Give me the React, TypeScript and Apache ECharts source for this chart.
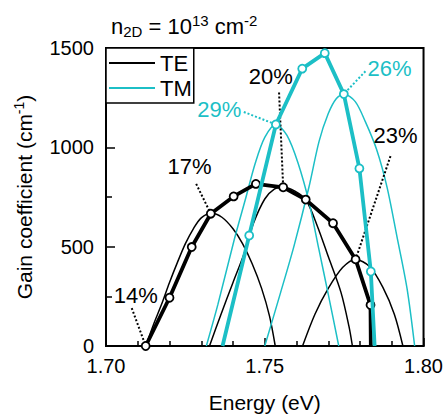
import { useEffect, useRef } from 'react';
import * as echarts from 'echarts';

// ---- data (x: Energy eV, y: gain cm^-1) ----
// thin gain spectra, TE polarisation
const te17 = [[1.7125, 0], [1.7150, 110], [1.7175, 210], [1.7200, 320], [1.7225, 421], [1.7250, 515], [1.7275, 590], [1.7300, 645], [1.7332, 668], [1.7365, 648], [1.7400, 590], [1.7430, 515], [1.7460, 415], [1.7490, 290], [1.7515, 150], [1.7533, 0]];
const te20 = [[1.7326, 0], [1.7360, 150], [1.7400, 320], [1.7436, 470], [1.7465, 620], [1.7500, 740], [1.7530, 790], [1.7558, 799], [1.7595, 780], [1.7630, 735], [1.7666, 602], [1.7700, 450], [1.7740, 270], [1.7765, 100], [1.7776, 0]];
const te23 = [[1.7619, 0], [1.7658, 160], [1.7700, 290], [1.7745, 395], [1.7786, 436], [1.7830, 400], [1.7872, 295], [1.7908, 160], [1.7935, 0]];
// thin gain spectra, TM polarisation
const tm29 = [[1.7316, 0], [1.7352, 207], [1.7404, 536], [1.7441, 750], [1.7470, 920], [1.7500, 1050], [1.7535, 1115], [1.7570, 1060], [1.7605, 920], [1.7640, 720], [1.7670, 490], [1.7700, 260], [1.7733, 0]];
const tm26 = [[1.7500, 0], [1.7550, 270], [1.7592, 503], [1.7639, 799], [1.7671, 1030], [1.7700, 1170], [1.7725, 1245], [1.7749, 1268], [1.7785, 1230], [1.7817, 1128], [1.7852, 990], [1.7885, 800], [1.7916, 553], [1.7948, 290], [1.7972, 0]];

// peak gain traces (marked points) and their unmarked ends
const tePeaks = [[1.7125, 0], [1.7200, 243], [1.7270, 498], [1.7330, 666], [1.7402, 753], [1.7472, 816], [1.7558, 799], [1.7629, 737], [1.7715, 618], [1.7786, 436], [1.7833, 206]];
const teTraceEnd = [[1.7834, 0]];
const tmTraceStart = [[1.7367, 0]];
const tmPeaks = [[1.7451, 556], [1.7535, 1115], [1.7618, 1396], [1.7689, 1474], [1.7749, 1268], [1.7798, 894], [1.7834, 375]];
const tmTraceEnd = [[1.7846, 0]];

// annotations (data coordinates): label centre, leader start, leader end
const annotTexts = ['14%', '17%', '20%', '23%', '29%', '26%'];
const annotGroups = ['TE', 'TE', 'TE', 'TE', 'TM', 'TM'];
const annotLabelAt = [[1.7094, 252], [1.7263, 903], [1.7519, 1357], [1.7912, 1061], [1.7357, 1189], [1.7893, 1396]];
const annotFrom = [[1.7081, 191], [1.7284, 816], [1.7545, 1276], [1.7896, 956], [1.7434, 1178], [1.7817, 1383]];
const annotTo = [[1.7125, 0], [1.7330, 666], [1.7558, 799], [1.7786, 436], [1.7535, 1115], [1.7749, 1268]];

const xTicks = { min: 1.7, max: 1.8, interval: 0.05 };
const yTicks = { min: 0, max: 1500, interval: 500 };

const BLACK = '#000000';
const CYAN = '#1CBFC6';
const FONT = 'Liberation Sans, Arial, sans-serif';

export default function App() {
  const ref = useRef<HTMLDivElement>(null);

  useEffect(() => {
    document.body.style.margin = '0';
    if (!ref.current) return;
    const chart = echarts.init(ref.current, undefined, { renderer: 'svg' });

    const thin = (name: string, data: number[][], color: string) => ({
      type: 'line',
      name,
      data,
      smooth: 0.3,
      symbol: 'none',
      showSymbol: false,
      lineStyle: { color, width: 1.5 },
      itemStyle: { color },
      z: 2,
      silent: true,
    });

    const trace = (name: string, pre: number[][], peaks: number[][], post: number[][], color: string, z: number) => ({
      type: 'line',
      name,
      data: [
        ...pre.map((p) => ({ value: p, symbol: 'none' })),
        ...peaks.map((p) => ({ value: p })),
        ...post.map((p) => ({ value: p, symbol: 'none' })),
      ],
      symbol: 'circle',
      symbolSize: 8,
      showSymbol: true,
      lineStyle: { color, width: 3.8 },
      itemStyle: { color: '#fff', borderColor: color, borderWidth: 1.8 },
      z,
      silent: true,
    });

    const leaders = annotTexts.map((t, i) => ({
      type: 'line',
      name: 'leader ' + t,
      data: [annotFrom[i], annotTo[i]],
      symbol: 'none',
      lineStyle: { color: annotGroups[i] === 'TE' ? BLACK : CYAN, width: 2, type: 'dotted' },
      z: 3,
      silent: true,
    }));

    const labels = annotTexts.map((t, i) => ({
      type: 'scatter',
      name: 'label ' + t,
      data: [annotLabelAt[i]],
      symbolSize: 2,
      itemStyle: { color: 'rgba(0,0,0,0)' },
      label: {
        show: true,
        position: 'inside',
        formatter: t,
        fontSize: 22,
        fontFamily: FONT,
        fontWeight: 'normal',
        color: annotGroups[i] === 'TE' ? BLACK : CYAN,
        textBorderWidth: 0,
        textBorderColor: 'transparent',
        opacity: 1,
      },
      z: 6,
      silent: true,
    }));

    const axisCommon = {
      type: 'value',
      axisLine: { show: true, onZero: false, lineStyle: { color: BLACK, width: 2 } },
      splitLine: { show: false },
      nameLocation: 'middle',
    };

    const base = { fontFamily: FONT, color: BLACK, fontWeight: 'normal' };

    chart.setOption({
      animation: false,
      backgroundColor: '#fff',
      title: {
        text: '{a|n}{b|2D}{a| = 10}{c|13}{a| cm}{c|-2}',
        left: 106,
        top: 8,
        textStyle: {
          ...base,
          fontSize: 22,
          rich: {
            a: { ...base, fontSize: 22, lineHeight: 26, verticalAlign: 'middle' },
            b: { ...base, fontSize: 15, lineHeight: 12, verticalAlign: 'bottom' },
            c: { ...base, fontSize: 15, lineHeight: 18, verticalAlign: 'top' },
          },
        },
      },
      legend: {
        left: 106,
        top: 48,
        orient: 'vertical',
        icon: 'rect',
        itemWidth: 46,
        itemHeight: 2,
        itemGap: 1,
        padding: [3, 2, 3, 3],
        borderColor: BLACK,
        borderWidth: 1.5,
        backgroundColor: '#fff',
        textStyle: { ...base, fontSize: 22, lineHeight: 24 },
        data: [
          { name: 'TE', itemStyle: { color: BLACK } },
          { name: 'TM', itemStyle: { color: CYAN } },
        ],
      },
      grid: { left: 106, right: 21, top: 48, bottom: 66, show: true, borderColor: BLACK, borderWidth: 2 },
      xAxis: {
        ...axisCommon,
        min: xTicks.min,
        max: xTicks.max,
        interval: xTicks.interval,
        axisTick: { show: true, inside: true, length: 8, lineStyle: { color: BLACK, width: 1.5 } },
        minorTick: { show: true, splitNumber: 5, length: 5, lineStyle: { color: BLACK, width: 1.5 } },
        axisLabel: {
          ...base,
          formatter: (v: number) => v.toFixed(2),
          fontSize: 20,
          margin: 10,
        },
        name: 'Energy (eV)',
        nameGap: 46,
        nameTextStyle: { ...base, fontSize: 21 },
      },
      yAxis: {
        ...axisCommon,
        min: yTicks.min,
        max: yTicks.max,
        interval: yTicks.interval,
        axisTick: { show: true, inside: true, length: 9, lineStyle: { color: BLACK, width: 1.5 } },
        minorTick: { show: true, splitNumber: 2, length: 6, lineStyle: { color: BLACK, width: 1.5 } },
        axisLabel: { ...base, fontSize: 20, margin: 12, formatter: (v: number) => String(v) },
        name: '{a|Gain coefficient (cm}{s|-1}{a|)}',
        nameGap: 70,
        nameRotate: 90,
        nameTextStyle: {
          ...base,
          fontSize: 21,
          rich: {
            a: { ...base, fontSize: 21, lineHeight: 24, verticalAlign: 'middle' },
            s: { ...base, fontSize: 14, lineHeight: 14, verticalAlign: 'top' },
          },
        },
      },
      series: [
        thin('TE', te17, BLACK),
        thin('TE', te20, BLACK),
        thin('TE', te23, BLACK),
        thin('TM', tm29, CYAN),
        thin('TM', tm26, CYAN),
        ...leaders,
        trace('TE peak gain', [], tePeaks, teTraceEnd, BLACK, 4),
        trace('TM peak gain', tmTraceStart, tmPeaks, tmTraceEnd, CYAN, 5),
        ...labels,
      ],
    });

    return () => chart.dispose();
  }, []);

  return <div ref={ref} style={{ width: 446, height: 418 }} />;
}
